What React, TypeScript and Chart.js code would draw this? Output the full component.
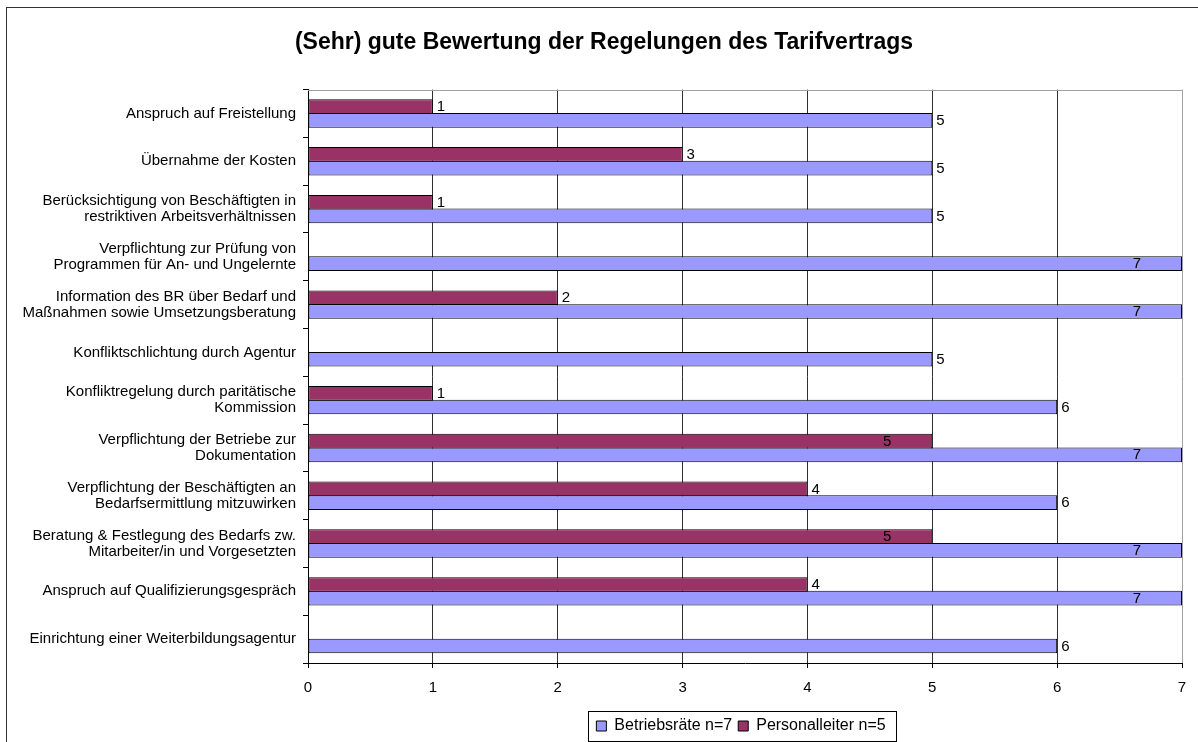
import React, { useEffect, useRef } from "react";
import { Chart, registerables } from "chart.js";

Chart.register(...registerables);

const titleText = "(Sehr) gute Bewertung der Regelungen des Tarifvertrags";

const categories: (string | string[])[] = [
  "Anspruch auf Freistellung",
  "Übernahme der Kosten",
  ["Berücksichtigung von Beschäftigten in", "restriktiven Arbeitsverhältnissen"],
  ["Verpflichtung zur Prüfung von", "Programmen für An- und Ungelernte"],
  ["Information des BR über Bedarf und", "Maßnahmen sowie Umsetzungsberatung"],
  "Konfliktschlichtung durch Agentur",
  ["Konfliktregelung durch paritätische", "Kommission"],
  ["Verpflichtung der Betriebe zur", "Dokumentation"],
  ["Verpflichtung der Beschäftigten an", "Bedarfsermittlung mitzuwirken"],
  ["Beratung & Festlegung des Bedarfs zw.", "Mitarbeiter/in und Vorgesetzten"],
  "Anspruch auf Qualifizierungsgespräch",
  "Einrichtung einer Weiterbildungsagentur",
];

const betriebsraete: (number | null)[] = [5, 5, 5, 7, 7, 5, 6, 7, 6, 7, 7, 6];
const personalleiter: (number | null)[] = [1, 3, 1, null, 2, null, 1, 5, 4, 5, 4, null];

const seriesNames = ["Personalleiter n=5", "Betriebsräte n=7"];
const seriesN = [5, 7];
const xTicks = [0, 1, 2, 3, 4, 5, 6, 7];

const FONT = "'Liberation Sans', Arial, sans-serif";

const decoPlugin = {
  id: "deco",
  afterLayout(chart: any) {
    const lg = chart.legend;
    if (lg) {
      const dx = 150;
      lg.left += dx;
      lg.right += dx;
      lg.top += 2;
      lg.bottom += 2;
    }
    const t = chart.titleBlock;
    if (t) {
      t.left += 13;
      t.right += 13;
    }
  },
  beforeDraw(chart: any) {
    const ctx = chart.ctx;
    ctx.save();
    ctx.fillStyle = "#ffffff";
    ctx.fillRect(0, 0, chart.width, chart.height);
    ctx.strokeStyle = "#333333";
    ctx.lineWidth = 1;
    ctx.strokeRect(6.5, 7.5, 3000, 3000);
    ctx.restore();
  },
  beforeDatasetsDraw(chart: any) {
    const { ctx, chartArea } = chart;
    ctx.save();
    ctx.strokeStyle = "#a0a0a0";
    ctx.lineWidth = 1;
    ctx.beginPath();
    ctx.moveTo(chartArea.left, Math.round(chartArea.top) + 0.5);
    ctx.lineTo(chartArea.right, Math.round(chartArea.top) + 0.5);
    ctx.stroke();
    ctx.restore();
  },
  afterDatasetsDraw(chart: any) {
    const ctx = chart.ctx;
    ctx.save();
    ctx.font = `15px ${FONT}`;
    ctx.fillStyle = "#000000";
    ctx.textBaseline = "middle";
    chart.data.datasets.forEach((ds: any, di: number) => {
      const meta = chart.getDatasetMeta(di);
      meta.data.forEach((el: any, i: number) => {
        const v = ds.data[i];
        if (v === null || v === undefined) return;
        if (v === seriesN[di]) {
          ctx.textAlign = "center";
          ctx.fillText(String(v), el.x - 45, el.y + 0.5);
        } else {
          ctx.textAlign = "left";
          ctx.fillText(String(v), el.x + 4, el.y + 0.5);
        }
      });
    });
    ctx.restore();
  },
  afterDraw(chart: any) {
    const lg = chart.legend;
    if (!lg || !lg.legendHitBoxes || !lg.legendHitBoxes.length) return;
    const hb = lg.legendHitBoxes;
    const first = hb[0];
    const last = hb[hb.length - 1];
    const cy = first.top + first.height / 2;
    const ctx = chart.ctx;
    ctx.save();
    ctx.strokeStyle = "#000000";
    ctx.lineWidth = 1;
    const l = Math.round(first.left - 8) + 0.5;
    const r = Math.round(last.left + last.width + 10) + 0.5;
    const t = Math.round(cy - 15) + 0.5;
    const b = Math.round(cy + 15) + 0.5;
    ctx.strokeRect(l, t, r - l, b - t);
    ctx.restore();
  },
};

export default function App() {
  const ref = useRef<HTMLCanvasElement | null>(null);

  useEffect(() => {
    document.body.style.margin = "0";
    if (!ref.current) return;
    Chart.defaults.font.family = FONT;
    Chart.defaults.color = "#000000";

    const chart = new Chart(ref.current, {
      type: "bar",
      data: {
        labels: categories,
        datasets: [
          {
            label: seriesNames[0],
            data: personalleiter,
            backgroundColor: "#993366",
            borderColor: "#000000",
            borderWidth: 1,
            borderSkipped: false,
            categoryPercentage: 0.573,
            barPercentage: 1.07,
          },
          {
            label: seriesNames[1],
            data: betriebsraete,
            backgroundColor: "#9999FF",
            borderColor: "#000000",
            borderWidth: 1,
            borderSkipped: false,
            categoryPercentage: 0.573,
            barPercentage: 1.07,
          },
        ],
      },
      options: {
        indexAxis: "y",
        responsive: false,
        animation: false,
        events: [],
        layout: { padding: { top: 0, right: 16, bottom: 0, left: 0 } },
        plugins: {
          title: {
            display: true,
            text: titleText,
            color: "#000000",
            font: { size: 23, weight: "bold", family: FONT },
            padding: { top: 29, bottom: 33 },
          },
          legend: {
            display: true,
            position: "bottom",
            labels: {
              boxWidth: 10,
              boxHeight: 10,
              padding: 6,
              color: "#000000",
              font: { size: 16, family: FONT },
              sort: (a: any, b: any) => b.datasetIndex - a.datasetIndex,
            },
          },
          tooltip: { enabled: false },
        },
        scales: {
          x: {
            type: "linear",
            min: xTicks[0],
            max: xTicks[xTicks.length - 1],
            afterBuildTicks: (scale: any) => {
              scale.ticks = xTicks.map((v) => ({ value: v }));
            },
            afterFit: (scale: any) => {
              scale.height = 47;
            },
            grid: {
              color: (c: any) => (c.tick && c.tick.value === 7 ? "#a0a0a0" : "#303030"),
              tickColor: "#000000",
              tickLength: 5,
              drawTicks: true,
            },
            border: { display: true, color: "#000000", width: 1 },
            ticks: {
              font: { size: 15, family: FONT },
              color: "#000000",
              padding: 11,
              maxRotation: 0,
            },
          },
          y: {
            type: "category",
            afterFit: (scale: any) => {
              scale.width = 308;
            },
            grid: {
              drawOnChartArea: false,
              drawTicks: true,
              tickLength: 5,
              color: "#000000",
              offset: true,
            },
            border: { display: true, color: "#000000", width: 1 },
            ticks: {
              font: { size: 15, family: FONT, lineHeight: 1.07 },
              color: "#000000",
              padding: 7,
              autoSkip: false,
            },
          },
        },
      },
      plugins: [decoPlugin],
    } as any);

    return () => {
      chart.destroy();
    };
  }, []);

  return (
    <div style={{ width: 1198, height: 742 }}>
      <canvas ref={ref} width={1198} height={742} style={{ display: "block" }} />
    </div>
  );
}
